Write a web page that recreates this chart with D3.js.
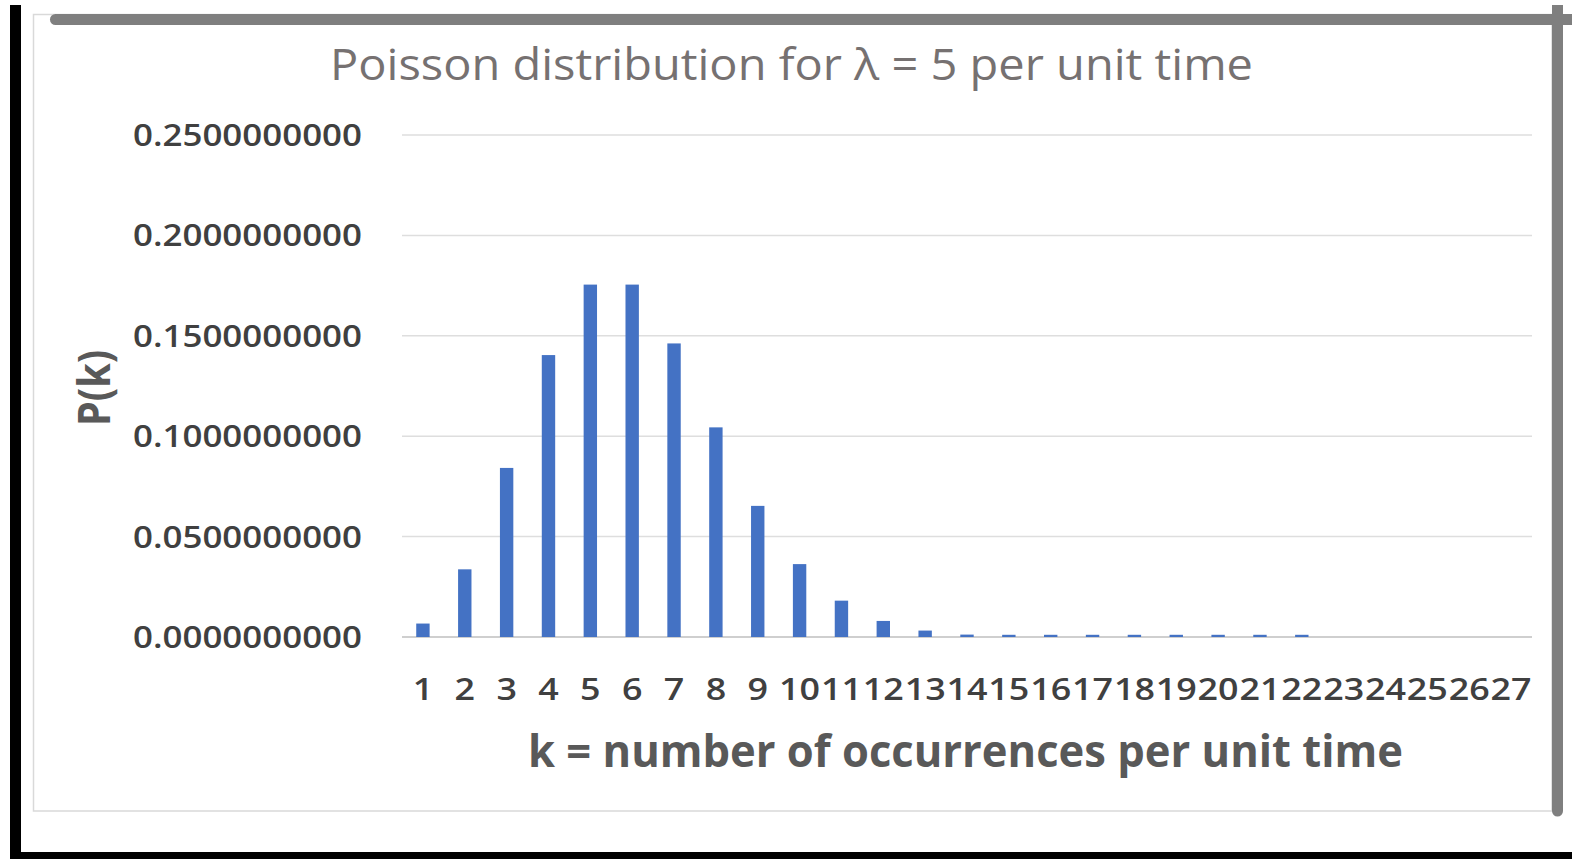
<!DOCTYPE html>
<html>
<head>
<meta charset="utf-8">
<script src="https://cdn.jsdelivr.net/npm/d3@7"></script>
<style>
  body { margin: 0; background: #fff; }
  svg { display: block; font-family: "Open Sans", "Noto Sans", sans-serif; }
</style>
</head>
<body>
<svg class="poisson-chart"></svg>
<script>
// k = 1..27 (bar k shows P(k-1) for lambda = 5)
var categories = d3.range(1, 28).map(String);
var pValues = [0.0067, 0.0337, 0.0842, 0.1404, 0.1755, 0.1755, 0.1462, 0.1044, 0.0653,
               0.0363, 0.0181, 0.0080, 0.0032, 0.0012, 0.0011, 0.0011, 0.0011, 0.0011,
               0.0011, 0.0011, 0.0011, 0.0011, 0, 0, 0, 0, 0];
var yTicks = [0, 0.05, 0.10, 0.15, 0.20, 0.25];

var W = 1572, H = 859;
var plot = {left: 402, right: 1532, top: 135, bottom: 637};

const svg = d3.select('svg.poisson-chart')
              .attr('width', W)
              .attr('height', H);

svg.append('rect').attr('width', W).attr('height', H).attr('fill', '#fff');

// chart area border
svg.append('rect')
   .attr('x', 33.5).attr('y', 14.5)
   .attr('width', 1552 - 33.5).attr('height', 811 - 14.5)
   .attr('fill', 'none')
   .attr('stroke', '#d9d9d9')
   .attr('stroke-width', 1.5);

const x = d3.scaleBand()
            .domain(categories)
            .range([plot.left, plot.right])
            .paddingInner(0.68)
            .paddingOuter(0.34);

const y = d3.scaleLinear()
            .domain([0, 0.25])
            .range([plot.bottom, plot.top]);

// gridlines
svg.append('g')
   .selectAll('line')
   .data(yTicks)
   .enter()
   .append('line')
   .attr('x1', plot.left)
   .attr('x2', plot.right)
   .attr('y1', d => y(d))
   .attr('y2', d => y(d))
   .attr('stroke', d => d === 0 ? '#cfcfcf' : '#dedede')
   .attr('stroke-width', d => d === 0 ? 2 : 1.5);

// bars
svg.append('g')
   .selectAll('rect')
   .data(pValues)
   .enter()
   .append('rect')
   .attr('x', (d, i) => x(categories[i]))
   .attr('width', x.bandwidth())
   .attr('y', d => y(d))
   .attr('height', d => y(0) - y(d))
   .attr('fill', '#4472c4');

// y axis
const yAxis = svg.append('g')
   .attr('transform', 'translate(362,0)')
   .call(d3.axisLeft(y).tickValues(yTicks).tickFormat(d3.format('.10f')).tickSize(0).tickPadding(0));
yAxis.select('.domain').remove();
yAxis.selectAll('text')
     .attr('x', 0)
     .attr('dy', 10.5)
     .attr('font-size', 30)
     .attr('font-weight', 600)
     .attr('font-family', '"Open Sans", sans-serif')
     .attr('fill', '#404040')
     .attr('text-anchor', 'end')
     .attr('textLength', 229)
     .attr('lengthAdjust', 'spacingAndGlyphs');

// x axis
const xAxis = svg.append('g')
   .attr('transform', 'translate(0,' + plot.bottom + ')')
   .call(d3.axisBottom(x).tickSize(0).tickPadding(0));
xAxis.select('.domain').remove();
xAxis.selectAll('text')
     .attr('y', 63)
     .attr('dy', 0)
     .attr('font-size', 30)
     .attr('font-weight', 600)
     .attr('font-family', '"Open Sans", sans-serif')
     .attr('fill', '#404040')
     .attr('textLength', d => d.length * 20.5)
     .attr('lengthAdjust', 'spacingAndGlyphs');

// title
svg.append('text')
   .attr('x', 330)
   .attr('y', 80)
   .attr('font-size', 44)
   .attr('font-weight', 500)
   .attr('fill', '#767171')
   .attr('textLength', 923)
   .attr('lengthAdjust', 'spacingAndGlyphs')
   .text('Poisson distribution for λ = 5 per unit time');

// axis titles
svg.append('text')
   .attr('x', 528)
   .attr('y', 767)
   .attr('font-size', 44)
   .attr('font-weight', 'bold')
   .attr('fill', '#595959')
   .attr('textLength', 875)
   .attr('lengthAdjust', 'spacingAndGlyphs')
   .text('k = number of occurrences per unit time');

svg.append('text')
   .attr('transform', 'translate(110,426) rotate(-90)')
   .attr('font-size', 44)
   .attr('font-weight', 'bold')
   .attr('fill', '#595959')
   .attr('textLength', 76)
   .attr('lengthAdjust', 'spacingAndGlyphs')
   .text('P(k)');

// screenshot frame: grey bars and black edges
svg.append('line')
   .attr('x1', 55.5).attr('x2', W + 10)
   .attr('y1', 19.5).attr('y2', 19.5)
   .attr('stroke', '#7f7f7f')
   .attr('stroke-width', 11)
   .attr('stroke-linecap', 'round');
svg.append('rect')
   .attr('x', 1552).attr('y', 5)
   .attr('width', 11).attr('height', 806)
   .attr('fill', '#7f7f7f');
svg.append('circle')
   .attr('cx', 1557.5).attr('cy', 811)
   .attr('r', 5.5)
   .attr('fill', '#7f7f7f');
svg.append('rect')
   .attr('x', 10).attr('y', 5)
   .attr('width', 11).attr('height', H - 5)
   .attr('fill', '#000');
svg.append('rect')
   .attr('x', 10).attr('y', 852)
   .attr('width', W - 10).attr('height', 7)
   .attr('fill', '#000');
</script>
</body>
</html>
